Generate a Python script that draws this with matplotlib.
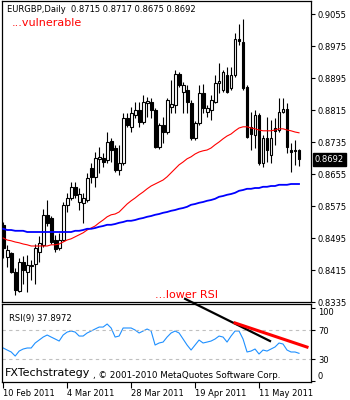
import matplotlib
matplotlib.use("Agg")
import matplotlib.pyplot as plt
from matplotlib.patches import Rectangle
from matplotlib.transforms import blended_transform_factory

# EURGBP daily candles, 10 Feb 2011 .. 25 May 2011 (trading days)
opens = [
    0.8528, 0.8448, 0.8458, 0.8410, 0.8363, 0.8435, 0.8410, 0.8424, 0.8430, 0.8460,
    0.8478, 0.8553, 0.8545, 0.8490, 0.8470, 0.8490, 0.8578, 0.8595, 0.8623, 0.8585,
    0.8583, 0.8590, 0.8670, 0.8648, 0.8693, 0.8695, 0.8690, 0.8738, 0.8720, 0.8665,
    0.8683, 0.8795, 0.8773, 0.8803, 0.8815, 0.8785, 0.8833, 0.8835, 0.8815, 0.8723,
    0.8778, 0.8760, 0.8823, 0.8828, 0.8905, 0.8860, 0.8865, 0.8833, 0.8745, 0.8783,
    0.8858, 0.8810, 0.8815, 0.8835, 0.8883, 0.8865, 0.8903, 0.8870, 0.8903, 0.8993,
    0.8985, 0.8873, 0.8773, 0.8753, 0.8803, 0.8683, 0.8745, 0.8703, 0.8770, 0.8765,
    0.8810, 0.8818, 0.8715, 0.8715, 0.8715,
]
highs = [
    0.8535, 0.8478, 0.8460, 0.8420, 0.8445, 0.8450, 0.8453, 0.8440, 0.8480, 0.8500,
    0.8568, 0.8590, 0.8550, 0.8503, 0.8508, 0.8585, 0.8608, 0.8635, 0.8635, 0.8620,
    0.8608, 0.8658, 0.8683, 0.8710, 0.8723, 0.8708, 0.8760, 0.8745, 0.8728, 0.8728,
    0.8808, 0.8808, 0.8823, 0.8835, 0.8835, 0.8853, 0.8848, 0.8845, 0.8820, 0.8783,
    0.8798, 0.8845, 0.8890, 0.8915, 0.8910, 0.8885, 0.8878, 0.8840, 0.8788, 0.8878,
    0.8880, 0.8828, 0.8853, 0.8903, 0.8933, 0.8915, 0.8923, 0.8923, 0.9008, 0.9030,
    0.9043, 0.8878, 0.8810, 0.8815, 0.8808, 0.8753, 0.8798, 0.8790, 0.8795, 0.8845,
    0.8845, 0.8833, 0.8733, 0.8740, 0.8717,
]
lows = [
    0.8445, 0.8423, 0.8408, 0.8353, 0.8360, 0.8380, 0.8360, 0.8390, 0.8380, 0.8435,
    0.8473, 0.8525, 0.8480, 0.8460, 0.8465, 0.8488, 0.8560, 0.8590, 0.8595, 0.8565,
    0.8533, 0.8585, 0.8633, 0.8623, 0.8658, 0.8673, 0.8683, 0.8685, 0.8660, 0.8653,
    0.8678, 0.8773, 0.8760, 0.8795, 0.8773, 0.8780, 0.8798, 0.8795, 0.8720, 0.8718,
    0.8733, 0.8755, 0.8808, 0.8808, 0.8873, 0.8808, 0.8808, 0.8740, 0.8740, 0.8778,
    0.8808, 0.8798, 0.8790, 0.8833, 0.8858, 0.8860, 0.8858, 0.8865, 0.8898, 0.8978,
    0.8865, 0.8745, 0.8715, 0.8720, 0.8678, 0.8673, 0.8685, 0.8683, 0.8728, 0.8760,
    0.8808, 0.8708, 0.8660, 0.8678, 0.8675,
]
closes = [
    0.8470, 0.8465, 0.8410, 0.8365, 0.8435, 0.8415, 0.8428, 0.8428, 0.8470, 0.8483,
    0.8553, 0.8533, 0.8485, 0.8468, 0.8490, 0.8578, 0.8595, 0.8623, 0.8603, 0.8605,
    0.8595, 0.8645, 0.8648, 0.8695, 0.8698, 0.8685, 0.8735, 0.8715, 0.8665, 0.8683,
    0.8795, 0.8778, 0.8808, 0.8815, 0.8785, 0.8835, 0.8838, 0.8815, 0.8723, 0.8778,
    0.8760, 0.8840, 0.8830, 0.8905, 0.8878, 0.8878, 0.8835, 0.8745, 0.8783, 0.8858,
    0.8820, 0.8820, 0.8840, 0.8883, 0.8888, 0.8910, 0.8860, 0.8903, 0.8993, 0.8988,
    0.8870, 0.8748, 0.8755, 0.8803, 0.8683, 0.8745, 0.8715, 0.8745, 0.8763, 0.8810,
    0.8818, 0.8723, 0.8710, 0.8713, 0.8692,
]

ma_red = [
    0.8495, 0.8490, 0.8488, 0.8485, 0.8483, 0.8480, 0.8478, 0.8475, 0.8475, 0.8475,
    0.8475, 0.8475, 0.8478, 0.8478, 0.8480, 0.8485, 0.8490, 0.8493, 0.8498, 0.8503,
    0.8508, 0.8515, 0.8520, 0.8525, 0.8533, 0.8540, 0.8548, 0.8553, 0.8555, 0.8560,
    0.8570, 0.8580, 0.8588, 0.8595, 0.8603, 0.8610, 0.8618, 0.8625, 0.8630, 0.8635,
    0.8640, 0.8648, 0.8658, 0.8668, 0.8678, 0.8685, 0.8693, 0.8698, 0.8705, 0.8710,
    0.8713, 0.8715, 0.8720, 0.8728, 0.8735, 0.8743, 0.8750, 0.8755, 0.8763, 0.8770,
    0.8773, 0.8773, 0.8770, 0.8768, 0.8765, 0.8763, 0.8763, 0.8763, 0.8765, 0.8768,
    0.8768, 0.8765, 0.8763, 0.8760, 0.8758,
]
ma_blue = [
    0.8518, 0.8515, 0.8515, 0.8513, 0.8513, 0.8513, 0.8510, 0.8510, 0.8510, 0.8510,
    0.8510, 0.8510, 0.8510, 0.8510, 0.8510, 0.8510, 0.8510, 0.8510, 0.8513, 0.8513,
    0.8515, 0.8518, 0.8518, 0.8520, 0.8523, 0.8525, 0.8528, 0.8528, 0.8530, 0.8533,
    0.8535, 0.8538, 0.8538, 0.8540, 0.8543, 0.8545, 0.8548, 0.8550, 0.8553, 0.8555,
    0.8558, 0.8560, 0.8563, 0.8565, 0.8568, 0.8570, 0.8573, 0.8578, 0.8580, 0.8583,
    0.8585, 0.8588, 0.8590, 0.8593, 0.8598, 0.8600, 0.8603, 0.8605, 0.8608, 0.8613,
    0.8615, 0.8618, 0.8618, 0.8620, 0.8620, 0.8623, 0.8623, 0.8625, 0.8625, 0.8628,
    0.8628, 0.8628, 0.8630, 0.8630, 0.8630,
]

rsi = [
    45.2, 42.4, 39.7, 34.1, 41.0, 43.8, 45.2, 45.2, 52.1, 56.2,
    60.3, 63.1, 60.3, 57.6, 54.8, 63.1, 67.2, 68.6, 67.2, 61.7,
    61.7, 65.9, 68.6, 71.4, 74.1, 74.1, 78.3, 72.8, 60.3, 61.7,
    72.8, 72.8, 72.8, 70.0, 65.9, 68.6, 71.4, 68.6, 49.3, 52.1,
    53.4, 60.3, 65.9, 68.6, 65.9, 57.6, 49.3, 42.4, 49.3, 56.2,
    52.1, 53.4, 54.8, 57.6, 61.7, 60.3, 53.4, 61.7, 68.6, 68.6,
    57.6, 39.7, 41.0, 43.8, 36.9, 42.4, 41.0, 43.8, 46.6, 52.1,
    50.7, 42.4, 39.7, 39.7, 37.9,
]

# hand-drawn trend lines on the RSI window: (bar, rsi) end points
trend_black = ([45.5, 66.75], [113.0, 54.8])
trend_red = ([58.0, 76.0], [79.7, 46.5])

price_ticks = [0.9055, 0.8975, 0.8895, 0.8815, 0.8735, 0.8655, 0.8575, 0.8495, 0.8415, 0.8335]
rsi_ticks = [0, 30, 70, 100]
date_ticks = [0, 16, 32, 48, 64]
date_labels = ["10 Feb 2011", "4 Mar 2011", "28 Mar 2011", "19 Apr 2011", "11 May 2011"]

W, H = 350, 400
FS = 6


def fx(px):
    return px / W


def fy(py):
    return 1 - py / H


plt.rcParams["font.family"] = ["DejaVu Sans"]
fig = plt.figure(figsize=(3.5, 4.0), dpi=100)
fig.patch.set_facecolor("white")

ax = fig.add_axes([fx(2), fy(302), fx(311) - fx(2), fy(1) - fy(302)])
ax_rsi = fig.add_axes([fx(2), fy(382), fx(311) - fx(2), fy(304) - fy(382)], sharex=ax)

# candles
for i, (o, h, l, c) in enumerate(zip(opens, highs, lows, closes)):
    ax.plot([i, i], [l, h], color="black", lw=0.8, zorder=2, solid_capstyle="butt")
    face = "white" if c >= o else "black"
    ax.add_patch(Rectangle((i - 0.36, min(o, c)), 0.72, abs(c - o),
                           facecolor=face, edgecolor="black", lw=0.8, zorder=3))

x = range(len(closes))
ax.plot(x, ma_red, color="#ff0000", lw=0.8, zorder=4)
ax.plot(x, ma_blue, color="#0000ff", lw=1.3, zorder=4)

ax.set_xlim(-0.3, 77)
ax.set_ylim(0.8335, 0.90875)
ax.yaxis.tick_right()
ax.set_yticks(price_ticks)
ax.set_yticklabels([f"{t:.4f}" for t in price_ticks])
ax.tick_params(axis="y", direction="out", length=3, width=0.8, labelsize=FS, pad=2)
ax.tick_params(axis="x", bottom=False, labelbottom=False)
for s in ax.spines.values():
    s.set_linewidth(0.9)

# current price box
trans = blended_transform_factory(ax.transAxes, ax.transData)
ax.text(1.012, closes[-1], f"{closes[-1]:.4f}", transform=trans, fontsize=FS,
        color="white", va="center", ha="left",
        bbox=dict(boxstyle="square,pad=0.25", facecolor="black", edgecolor="black"))

fig.text(fx(7), fy(10), "EURGBP,Daily  0.8715 0.8717 0.8675 0.8692", fontsize=FS,
         va="center", ha="left")
fig.text(fx(12), fy(23), "...vulnerable", fontsize=8, color="#ff0000", va="center", ha="left")
fig.text(fx(155), fy(295), "...lower RSI", fontsize=8, color="#ff0000", va="center", ha="left")

# RSI window
ax_rsi.plot(x, rsi, color="#1e90ff", lw=0.8)
for lvl in (70, 30):
    ax_rsi.axhline(lvl, color="#c0c0c0", lw=0.8, linestyle=(0, (3, 3)))
ax_rsi.plot(*trend_black, color="black", lw=1.6, clip_on=False, zorder=5)
ax_rsi.plot(*trend_red, color="#ff0000", lw=2.2, clip_on=False, zorder=5)

ax_rsi.set_ylim(-1.7, 105.9)
ax_rsi.yaxis.tick_right()
ax_rsi.set_yticks(rsi_ticks)
ax_rsi.set_yticklabels([str(t) for t in rsi_ticks])
ax_rsi.tick_params(axis="y", direction="out", length=3, width=0.8, labelsize=FS, pad=2)
for lab in ax_rsi.get_yticklabels():
    if lab.get_text() == "100":
        lab.set_verticalalignment("top")
    elif lab.get_text() == "0":
        lab.set_verticalalignment("bottom")
ax_rsi.set_xticks(date_ticks)
ax_rsi.set_xticklabels(date_labels, ha="left")
ax_rsi.tick_params(axis="x", direction="out", length=4, width=0.8, labelsize=FS, pad=1)
for lab in ax_rsi.get_xticklabels():
    lab.set_horizontalalignment("left")
for s in ax_rsi.spines.values():
    s.set_linewidth(0.9)

ax_rsi.text(fx(7) / (fx(311) - fx(2)), 0.82, "RSI(9) 37.8972", transform=ax_rsi.transAxes,
            fontsize=FS, va="center", ha="left")
fig.text(fx(5), fy(373), "FXTechstrategy", fontsize=8, va="center", ha="left")
fig.text(fx(93), fy(375), ", \u00a9 2001-2010 MetaQuotes Software Corp.", fontsize=6.3,
         va="center", ha="left")

fig.savefig("out.png", dpi=100)
